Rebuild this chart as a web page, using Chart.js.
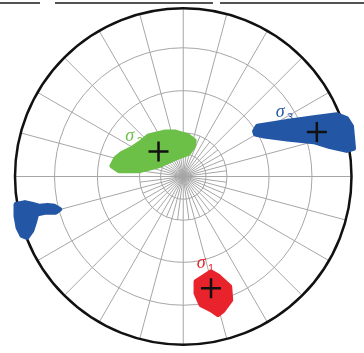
<!DOCTYPE html>
<html>
<head>
<meta charset="utf-8">
<title>Principal stress axes</title>
<script src="https://cdn.jsdelivr.net/npm/chart.js@4/dist/chart.umd.min.js"></script>
<style>
  html, body { margin: 0; padding: 0; background: #ffffff; }
  #wrap { width: 364px; height: 353px; position: relative; }
</style>
</head>
<body>
<div id="wrap"><canvas id="net" width="364" height="353"></canvas></div>
<script>
// Lower-hemisphere projection, unit circle = primitive. x: east, y: north.

// Scatter envelopes of the solutions for each principal axis
const sigma1Cloud = [
  [0.129, -0.606], [0.165, -0.582], [0.206, -0.606], [0.276, -0.671],
  [0.282, -0.753], [0.235, -0.818], [0.206, -0.841], [0.165, -0.812],
  [0.106, -0.782], [0.076, -0.712], [0.076, -0.641]
];
const sigma2Cloud = [
  [-0.424, 0.065], [-0.382, 0.035], [-0.265, 0.035], [-0.147, 0.065],
  [-0.047, 0.112], [0.029, 0.141], [0.059, 0.182], [0.065, 0.218],
  [0.029, 0.247], [-0.047, 0.271], [-0.106, 0.271], [-0.206, 0.247],
  [-0.247, 0.212], [-0.306, 0.171], [-0.365, 0.141], [-0.400, 0.112]
];
const sigma3Cloud = [
  [0.424, 0.276], [0.441, 0.306], [0.618, 0.335], [0.776, 0.359],
  [0.912, 0.376], [0.971, 0.353], [1.000, 0.306], [1.012, 0.171],
  [0.971, 0.159], [0.871, 0.182], [0.776, 0.212], [0.618, 0.229],
  [0.482, 0.247], [0.429, 0.259]
];
// sigma3 solutions wrapping to the opposite side of the net
const sigma3CloudWrap = [
  [-0.994, -0.171], [-0.941, -0.159], [-0.894, -0.171], [-0.853, -0.182],
  [-0.806, -0.176], [-0.765, -0.182], [-0.735, -0.200], [-0.759, -0.218],
  [-0.824, -0.218], [-0.871, -0.229], [-0.882, -0.271], [-0.900, -0.329],
  [-0.929, -0.371], [-0.959, -0.359], [-0.982, -0.312], [-0.994, -0.241]
];

// Best-fit axes
const bestAxes = [
  [0.165, -0.682],   // sigma1
  [-0.147, 0.153],   // sigma2
  [0.794, 0.271]     // sigma3
];

// Axis labels
const axisNames = ['σ', 'σ', 'σ'];
const axisSubs = ['1', '2', '3'];
const axisLabelPos = [[0.106, -0.529], [-0.318, 0.247], [0.576, 0.394]];
const axisColors = ['#e8232b', '#6cbf47', '#2456a6'];

// Net grid: rings and spokes
const ringRadii = [0.135, 0.26, 0.51, 0.765];
const spokeStepDeg = 15;
const innerSpokeLimit = 0.26;

const toPts = a => a.map(p => ({ x: p[0], y: p[1] }));

const netGrid = {
  id: 'netGrid',
  beforeDatasetsDraw(chart) {
    const { ctx, scales: { x, y } } = chart;
    const cx = x.getPixelForValue(0), cy = y.getPixelForValue(0);
    const R = x.getPixelForValue(1) - cx;
    ctx.save();
    ctx.strokeStyle = '#a6a6a6';
    ctx.lineWidth = 1;
    ringRadii.forEach(r => {
      ctx.beginPath();
      ctx.arc(cx, cy, r * R, 0, Math.PI * 2);
      ctx.stroke();
    });
    for (let a = 0; a < 360; a += spokeStepDeg / 2) {
      const full = (a % spokeStepDeg) === 0;
      const len = full ? R : innerSpokeLimit * R;
      const t = a * Math.PI / 180;
      ctx.beginPath();
      ctx.moveTo(cx, cy);
      ctx.lineTo(cx + len * Math.sin(t), cy - len * Math.cos(t));
      ctx.stroke();
    }
    // primitive circle
    ctx.strokeStyle = '#111111';
    ctx.lineWidth = 2.5;
    ctx.beginPath();
    ctx.arc(cx, cy, R, 0, Math.PI * 2);
    ctx.stroke();
    // frame rule along the top edge
    ctx.strokeStyle = '#1a1a1a';
    ctx.lineWidth = 1.5;
    [[0, 40], [55, 213], [220, 364]].forEach(s => {
      ctx.beginPath();
      ctx.moveTo(s[0], 3);
      ctx.lineTo(s[1], 3);
      ctx.stroke();
    });
    // axis labels (drawn beneath the clouds)
    axisNames.forEach((n, i) => {
      const px = x.getPixelForValue(axisLabelPos[i][0]);
      const py = y.getPixelForValue(axisLabelPos[i][1]);
      ctx.fillStyle = axisColors[i];
      ctx.textAlign = 'center';
      ctx.textBaseline = 'middle';
      ctx.font = 'italic 18px "Liberation Serif", "DejaVu Serif", serif';
      ctx.fillText(n, px, py);
      ctx.font = '11px "Liberation Sans", "DejaVu Sans", sans-serif';
      ctx.fillText(axisSubs[i], px + 10, py + 6);
    });
    ctx.restore();
  }
};

// Fill each cloud envelope through the dataset's own element positions
const cloudFill = {
  id: 'cloudFill',
  beforeDatasetDraw(chart, args) {
    const ds = chart.data.datasets[args.index];
    if (!ds.cloud) return;
    const meta = args.meta;
    const { ctx } = chart;
    ctx.save();
    ctx.beginPath();
    meta.data.forEach((pt, i) => {
      if (i === 0) ctx.moveTo(pt.x, pt.y); else ctx.lineTo(pt.x, pt.y);
    });
    ctx.closePath();
    ctx.fillStyle = ds.cloudColor;
    ctx.strokeStyle = ds.cloudColor;
    ctx.lineWidth = 5;
    ctx.lineJoin = 'round';
    ctx.fill();
    ctx.stroke();
    ctx.restore();
  }
};

const cloudSet = (data, color) => ({
  type: 'scatter',
  data: toPts(data),
  cloud: true,
  cloudColor: color,
  pointRadius: 0,
  showLine: false,
  clip: false
});

new Chart(document.getElementById('net'), {
  type: 'scatter',
  data: {
    datasets: [
      // best-fit axes first so they are painted over the clouds
      {
        data: toPts(bestAxes),
        pointStyle: 'cross',
        pointRadius: 10,
        borderColor: '#111111',
        borderWidth: 2.5,
        clip: false
      },
      cloudSet(sigma1Cloud, axisColors[0]),
      cloudSet(sigma2Cloud, axisColors[1]),
      cloudSet(sigma3Cloud, axisColors[2]),
      cloudSet(sigma3CloudWrap, axisColors[2])
    ]
  },
  options: {
    responsive: false,
    maintainAspectRatio: false,
    animation: false,
    layout: { padding: { left: 15, right: 9, top: 9, bottom: 4 } },
    scales: {
      x: { type: 'linear', min: -1, max: 1, display: false },
      y: { type: 'linear', min: -1, max: 1, display: false }
    },
    plugins: { legend: { display: false }, tooltip: { enabled: false } }
  },
  plugins: [netGrid, cloudFill]
});
</script>
</body>
</html>
